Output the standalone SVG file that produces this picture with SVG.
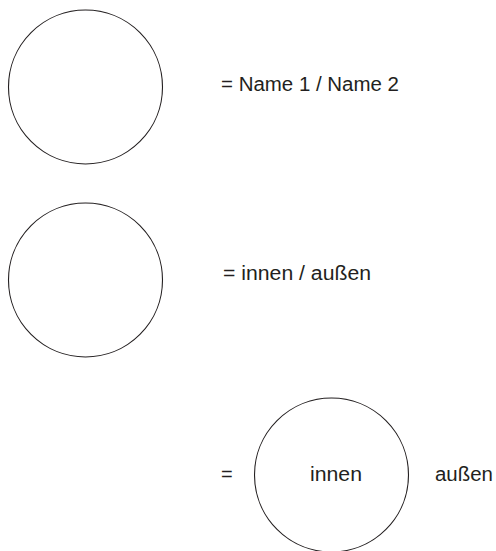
<svg xmlns="http://www.w3.org/2000/svg" width="496" height="551" viewBox="0 0 496 551">
<style>
.c{fill:#fff;stroke:#231f20;stroke-width:1.1}
.t{font-family:"Liberation Sans",Arial,sans-serif;font-size:20px;fill:#231f20}
</style>
<rect width="496" height="551" fill="#fff"/>
<g id="legend1">
<circle class="c" cx="85.5" cy="87" r="77"/>
<text class="t" x="221" y="91" textLength="178" lengthAdjust="spacingAndGlyphs">= Name 1 / Name 2</text>
</g>
<g id="legend2">
<circle class="c" cx="85.5" cy="280" r="77"/>
<text class="t" x="223" y="280" textLength="148" lengthAdjust="spacingAndGlyphs">= innen / außen</text>
</g>
<g id="legend3">
<text class="t" x="221" y="481">=</text>
<circle class="c" cx="331.5" cy="475" r="77"/>
<text class="t" x="310" y="481" textLength="52" lengthAdjust="spacingAndGlyphs">innen</text>
<text class="t" x="435" y="481" textLength="58" lengthAdjust="spacingAndGlyphs">außen</text>
</g>
<g id="connectors"></g>
</svg>
